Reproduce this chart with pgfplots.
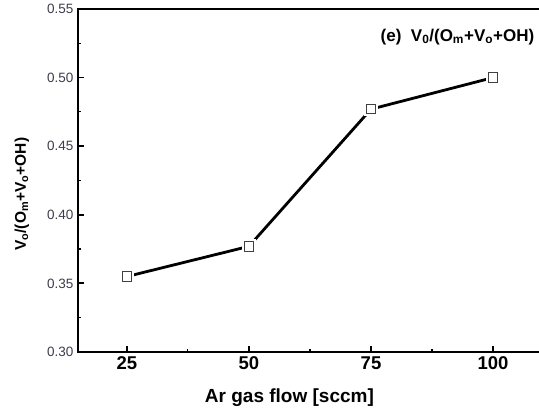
\documentclass[border=0pt]{standalone}
\usepackage{fontspec}
\setmainfont{Liberation Sans}
\usepackage{pgfplots}
\pgfplotsset{compat=1.18}
\definecolor{ticklab}{HTML}{3C3C4A}
\begin{document}
\begin{tikzpicture}
\begin{axis}[
  name=ax,
  scale only axis,
  width=461.5pt, height=343pt,
  xmin=15, xmax=109.5,
  ymin=0.30, ymax=0.55,
  axis line style={draw=none},
  xtick={25,50,75,100},
  minor xtick={37.5,62.5,87.5},
  ytick={0.30,0.35,0.40,0.45,0.50,0.55},
  minor ytick={0.325,0.375,0.425,0.475,0.525},
  tick align=inside,
  xtick pos=bottom, ytick pos=left,
  major tick length=6pt, minor tick length=3pt,
  every tick/.style={line width=1.8pt, black},
  every minor tick/.style={line width=1.2pt, black},
  /pgf/number format/assume math mode=true,
  yticklabel style={/pgf/number format/fixed, /pgf/number format/fixed zerofill, /pgf/number format/precision=2, font=\fontsize{13.5}{15}\selectfont, text=ticklab, xshift=-1pt},
  xticklabel style={font=\fontsize{18.5}{20}\selectfont\bfseries, yshift=-1pt},
  clip=false,
]
\draw[line width=2pt, line cap=rect] (rel axis cs:1,1) -- (rel axis cs:0,1) -- (rel axis cs:0,0) -- (rel axis cs:1,0);
\addplot[line width=2.8pt, black] coordinates {(25,0.355) (50,0.377) (75,0.477) (100,0.500)};
\addplot[only marks, mark=square*, mark size=6pt, mark options={draw=white, fill=white, line width=2pt}] coordinates {(25,0.355) (50,0.377) (75,0.477) (100,0.500)};
\addplot[only marks, mark=square*, mark size=4.7pt, mark options={draw=black!75, fill=white, line width=1pt}] coordinates {(25,0.355) (50,0.377) (75,0.477) (100,0.500)};
\node[font=\fontsize{19}{22}\selectfont\bfseries] at (axis cs:58.3,0.2665) {Ar gas flow [sccm]};
\node[font=\fontsize{15.5}{18}\selectfont\bfseries, rotate=90] at (axis cs:3.5,0.415) {V$_\mathbf{o}$/(O$_\mathbf{m}$+V$_\mathbf{o}$+OH)};
\node[font=\fontsize{17}{19}\selectfont\bfseries] at (axis cs:92.7,0.5296) {(e)\ \ V$_\mathbf{0}$/(O$_\mathbf{m}$+V$_\mathbf{o}$+OH)};
\end{axis}
\pgfresetboundingbox
\path ([xshift=-78pt,yshift=-60pt]ax.south west) rectangle ([xshift=461pt,yshift=9pt]ax.north west);
\end{tikzpicture}
\end{document}
